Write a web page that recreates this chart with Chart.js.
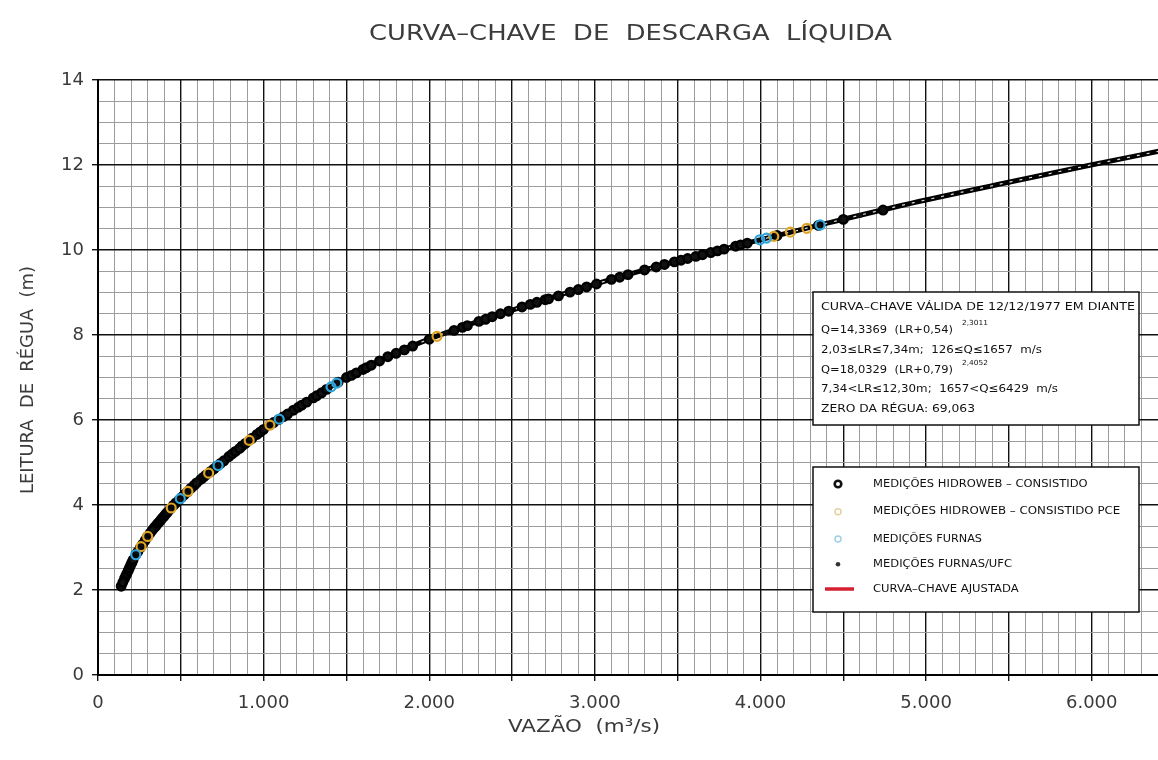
<!DOCTYPE html>
<html>
<head>
<meta charset="utf-8">
<title>Curva-chave de descarga líquida</title>
<script src="https://cdn.jsdelivr.net/npm/chart.js@4.4.0/dist/chart.umd.min.js"></script>
<style>
  body { margin: 0; background: #fff; }
  canvas { display: block; }
</style>
</head>
<body>
<canvas id="curva" width="1158" height="760"></canvas>
<script>
// curva-chave ajustada: vazão (m3/s) x leitura de régua (m)
const curvaQ  = [129, 220, 321, 452, 604, 765, 907, 1028, 1230, 1472, 1755, 2037, 2441, 3047, 3451, 3996, 4359, 4864, 5469, 5995, 6426];
const curvaLR = [2.00, 2.78, 3.38, 3.98, 4.55, 5.06, 5.50, 5.86, 6.35, 6.94, 7.50, 7.96, 8.51, 9.25, 9.69, 10.24, 10.59, 11.06, 11.57, 12.00, 12.34];

// medições hidroweb - consistido
const hidrowebQ  = [140, 150, 160, 168, 175, 183, 190, 198, 205, 212, 230, 240, 255, 270, 285, 300, 315, 328, 340, 350,
                    360, 370, 380, 390, 400, 410, 420, 435, 455, 470, 490, 505, 520, 540, 560, 580, 595, 620, 635, 650,
                    680, 700, 720, 740, 760, 790, 810, 830, 855, 870, 890, 930, 960, 980, 1000, 1040, 1060, 1090, 1120, 1145,
                    1180, 1210, 1230, 1260, 1300, 1320, 1350, 1380, 1450, 1500, 1530, 1560, 1600, 1620, 1650, 1700, 1750, 1800, 1850, 1900,
                    2000, 2150, 2200, 2230, 2300, 2340, 2380, 2430, 2480, 2560, 2610, 2650, 2700, 2720, 2780, 2850, 2900, 2950, 3010, 3100,
                    3150, 3200, 3300, 3370, 3420, 3480, 3520, 3560, 3610, 3650, 3700, 3740, 3780, 3850, 3880, 3920, 4100, 4350, 4500, 4740];
const hidrowebLR = [2.09, 2.18, 2.27, 2.33, 2.39, 2.46, 2.52, 2.59, 2.65, 2.71, 2.84, 2.90, 2.99, 3.08, 3.17, 3.26, 3.34, 3.41, 3.47, 3.51,
                    3.56, 3.60, 3.65, 3.70, 3.74, 3.79, 3.83, 3.90, 3.99, 4.05, 4.12, 4.18, 4.24, 4.31, 4.39, 4.46, 4.52, 4.60, 4.65, 4.70,
                    4.79, 4.85, 4.92, 4.98, 5.04, 5.14, 5.20, 5.26, 5.33, 5.39, 5.45, 5.57, 5.66, 5.72, 5.78, 5.89, 5.94, 6.01, 6.08, 6.14,
                    6.23, 6.30, 6.35, 6.42, 6.52, 6.57, 6.64, 6.72, 6.89, 7.00, 7.05, 7.11, 7.19, 7.23, 7.29, 7.39, 7.49, 7.57, 7.65, 7.74,
                    7.90, 8.11, 8.18, 8.22, 8.32, 8.37, 8.43, 8.50, 8.56, 8.66, 8.72, 8.77, 8.83, 8.85, 8.92, 9.01, 9.07, 9.13, 9.20, 9.31,
                    9.36, 9.42, 9.53, 9.60, 9.66, 9.72, 9.76, 9.80, 9.85, 9.89, 9.94, 9.98, 10.02, 10.09, 10.12, 10.16, 10.34, 10.58, 10.72, 10.94];

// medições hidroweb - consistido PCE
const pceQ  = [260, 300, 442, 543, 668, 913, 1038, 2047, 4080, 4180, 4280];
const pceLR = [3.02, 3.26, 3.93, 4.32, 4.75, 5.52, 5.88, 7.97, 10.32, 10.42, 10.51];

// medições furnas
const furnasQ  = [228, 497, 725, 1094, 1407, 1442, 3996, 4036, 4360];
const furnasLR = [2.83, 4.15, 4.93, 6.02, 6.78, 6.87, 10.24, 10.28, 10.59];

// medições furnas/ufc
const ufcQ  = [150, 250, 330, 430, 490, 600, 760, 850, 940, 1150, 1400, 1650, 1850, 2100, 2600, 3000, 3380, 3600, 3980, 4200, 4600];
const ufcLR = [2.18, 2.96, 3.42, 3.88, 4.12, 4.54, 5.04, 5.32, 5.60, 6.15, 6.76, 7.29, 7.65, 8.05, 8.70, 9.19, 9.61, 9.84, 10.22, 10.44, 10.81];

const xTickLabels = ['0', '1.000', '2.000', '3.000', '4.000', '5.000', '6.000'];
const yTickLabels = ['0', '2', '4', '6', '8', '10', '12', '14'];

const titulo = 'CURVA–CHAVE  DE  DESCARGA  LÍQUIDA';
const tituloX = 'VAZÃO  (m³/s)';
const tituloY = 'LEITURA  DE  RÉGUA  (m)';

const caixaLinhas = [
  'CURVA–CHAVE VÁLIDA DE 12/12/1977 EM DIANTE',
  'Q=14,3369  (LR+0,54)',
  '2,03≤LR≤7,34m;  126≤Q≤1657  m/s',
  'Q=18,0329  (LR+0,79)',
  '7,34<LR≤12,30m;  1657<Q≤6429  m/s',
  'ZERO DA RÉGUA: 69,063'
];
const expoentes = ['2,3011', '2,4052'];

const legendaLabels = [
  'MEDIÇÕES HIDROWEB – CONSISTIDO',
  'MEDIÇÕES HIDROWEB – CONSISTIDO PCE',
  'MEDIÇÕES FURNAS',
  'MEDIÇÕES FURNAS/UFC',
  'CURVA–CHAVE AJUSTADA'
];

function pts(q, lr) {
  return q.map((v, i) => ({ x: v, y: lr[i] }));
}

// escreve o texto esticado até a largura pedida
function fitText(ctx, str, x, y, w) {
  const n = ctx.measureText(str).width;
  ctx.save();
  ctx.translate(x, y);
  ctx.scale(w / n, 1);
  ctx.fillText(str, 0, 0);
  ctx.restore();
}

function caixa(ctx, x, y, w, h) {
  ctx.fillStyle = '#fff';
  ctx.fillRect(x, y, w, h);
  ctx.strokeStyle = '#111';
  ctx.lineWidth = 1.5;
  ctx.strokeRect(x, y, w, h);
}

const anotacoes = {
  id: 'anotacoes',
  afterDraw(chart) {
    const ctx = chart.ctx;
    ctx.save();
    ctx.textAlign = 'left';
    ctx.textBaseline = 'middle';

    // títulos
    ctx.fillStyle = '#3c3c3c';
    ctx.font = '22px "DejaVu Sans"';
    fitText(ctx, titulo, 369, 34, 523);
    ctx.fillStyle = '#3a3a3a';
    ctx.font = '18px "DejaVu Sans"';
    fitText(ctx, tituloX, 508, 727, 152);
    ctx.save();
    ctx.translate(28, 380);
    ctx.rotate(-Math.PI / 2);
    fitText(ctx, tituloY, -114, 0, 228);
    ctx.restore();

    // caixa das equações
    caixa(ctx, 813, 292, 326, 133);
    ctx.fillStyle = '#111';
    ctx.font = '11px "DejaVu Sans"';
    const linhaY = [306.7, 330, 350, 370, 389.3, 409];
    const linhaW = [314, 132, 221, 132, 237, 154];
    caixaLinhas.forEach((t, i) => fitText(ctx, t, 821, linhaY[i], linhaW[i]));
    ctx.font = '7px "DejaVu Sans"';
    fitText(ctx, expoentes[0], 962, 323, 26);
    fitText(ctx, expoentes[1], 962, 363, 26);

    // legenda
    caixa(ctx, 813, 467, 326, 145);
    const legY = [484, 511.7, 539, 564.3, 589];
    const legW = [214.6, 247.3, 109, 139, 145.6];
    ctx.fillStyle = '#111';
    ctx.font = '10.5px "DejaVu Sans"';
    legendaLabels.forEach((t, i) => fitText(ctx, t, 873, legY[i], legW[i]));

    ctx.lineWidth = 2.6;
    ctx.strokeStyle = '#111';
    ctx.beginPath(); ctx.arc(838, legY[0], 3.3, 0, Math.PI * 2); ctx.stroke();
    ctx.lineWidth = 1.5;
    ctx.strokeStyle = '#e2d29a';
    ctx.beginPath(); ctx.arc(838, legY[1], 3, 0, Math.PI * 2); ctx.stroke();
    ctx.strokeStyle = '#9fcfe8';
    ctx.beginPath(); ctx.arc(838, legY[2], 3, 0, Math.PI * 2); ctx.stroke();
    ctx.fillStyle = '#333';
    ctx.beginPath(); ctx.arc(838, legY[3], 2.3, 0, Math.PI * 2); ctx.fill();
    ctx.strokeStyle = '#d42030';
    ctx.lineWidth = 3.5;
    ctx.beginPath(); ctx.moveTo(825, legY[4]); ctx.lineTo(854, legY[4]); ctx.stroke();

    ctx.restore();
  }
};

const majorX = v => v % 500 === 0;
const majorY = v => v % 2 === 0;

new Chart(document.getElementById('curva'), {
  type: 'scatter',
  data: {
    datasets: [
      {
        label: legendaLabels[4],
        data: pts(curvaQ, curvaLR),
        showLine: true,
        borderColor: '#000',
        borderWidth: 5,
        pointRadius: 0,
        cubicInterpolationMode: 'monotone',
        order: 10
      },
      {
        label: 'traço',
        data: pts(curvaQ, curvaLR),
        showLine: true,
        borderColor: 'rgba(255,255,255,0.85)',
        borderWidth: 1.2,
        borderDash: [3, 7],
        pointRadius: 0,
        cubicInterpolationMode: 'monotone',
        order: 9
      },
      {
        label: legendaLabels[0],
        data: pts(hidrowebQ, hidrowebLR),
        pointRadius: 4.2,
        borderWidth: 2.5,
        borderColor: '#000',
        backgroundColor: '#111',
        order: 4
      },
      {
        label: legendaLabels[3],
        data: pts(ufcQ, ufcLR),
        pointRadius: 2.5,
        borderWidth: 0,
        backgroundColor: '#111',
        order: 3
      },
      {
        label: legendaLabels[1],
        data: pts(pceQ, pceLR),
        pointRadius: 4.5,
        borderWidth: 2.2,
        borderColor: '#e0a424',
        backgroundColor: 'rgba(0,0,0,0)',
        order: 2
      },
      {
        label: legendaLabels[2],
        data: pts(furnasQ, furnasLR),
        pointRadius: 4.5,
        borderWidth: 2.2,
        borderColor: '#2ea4da',
        backgroundColor: 'rgba(0,0,0,0)',
        order: 1
      }
    ]
  },
  options: {
    responsive: false,
    devicePixelRatio: 1,
    animation: false,
    layout: { autoPadding: false, padding: { top: 80, right: 0, bottom: 0, left: 0 } },
    plugins: {
      legend: { display: false },
      title: { display: false },
      tooltip: { enabled: false }
    },
    scales: {
      x: {
        type: 'linear',
        min: 0,
        max: 6400,
        afterBuildTicks: scale => {
          scale.ticks = [];
          for (let i = 0; i <= 64; i++) scale.ticks.push({ value: i * 100 });
        },
        afterFit: scale => {
          scale.height = 85;
          scale.paddingLeft = 0;
          scale.paddingRight = 0;
        },
        ticks: {
          autoSkip: false,
          maxRotation: 0,
          padding: 12,
          color: '#3a3a3a',
          font: { family: 'DejaVu Sans', size: 18 },
          callback: v => (v % 1000 === 0 ? xTickLabels[v / 1000] : '')
        },
        grid: {
          color: c => (majorX(c.tick.value) ? '#111' : '#9c9c9c'),
          lineWidth: c => (majorX(c.tick.value) ? 1.4 : 1),
          tickColor: c => (majorX(c.tick.value) ? '#111' : 'rgba(0,0,0,0)'),
          tickLength: 6
        },
        border: { display: true, color: '#000', width: 2 }
      },
      y: {
        type: 'linear',
        min: 0,
        max: 14,
        afterBuildTicks: scale => {
          scale.ticks = [];
          for (let i = 0; i <= 28; i++) scale.ticks.push({ value: i * 0.5 });
        },
        afterFit: scale => {
          scale.width = 98;
          scale.paddingTop = 0;
          scale.paddingBottom = 0;
        },
        ticks: {
          autoSkip: false,
          padding: 8,
          color: '#3a3a3a',
          font: { family: 'DejaVu Sans', size: 18 },
          callback: v => (v % 2 === 0 ? yTickLabels[v / 2] : '')
        },
        grid: {
          color: c => (majorY(c.tick.value) ? '#111' : '#9c9c9c'),
          lineWidth: c => (majorY(c.tick.value) ? 1.4 : 1),
          tickColor: c => (majorY(c.tick.value) ? '#111' : 'rgba(0,0,0,0)'),
          tickLength: 6
        },
        border: { display: true, color: '#000', width: 2 }
      }
    }
  },
  plugins: [anotacoes]
});
</script>
</body>
</html>
